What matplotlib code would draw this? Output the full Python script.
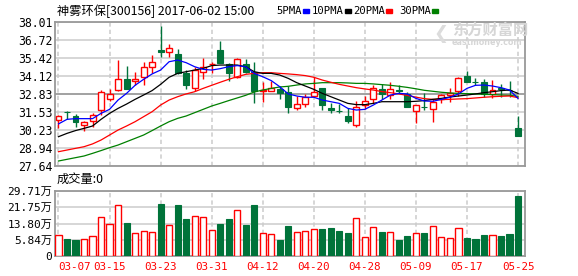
import numpy as np
import matplotlib.pyplot as plt
from matplotlib.patches import Rectangle

# daily candles 2017-03-07 .. 2017-05-25 (55 trading days)
opens = [30.93, 31.53, 31.27, 30.62, 30.86, 31.65, 32.49, 33.09, 33.88, 33.79,
         34.05, 34.79, 35.97, 35.83, 35.71, 34.36, 33.23, 34.39, 35.00, 35.99,
         34.96, 34.07, 34.99, 34.43, 33.05, 33.07, 33.19, 32.99, 31.79, 32.08,
         32.68, 33.23, 31.82, 31.62, 31.24, 30.62, 32.01, 32.49, 33.19, 32.78,
         33.10, 32.80, 31.60, 31.90, 31.72, 32.49, 32.78, 33.02, 34.10, 33.70,
         33.69, 32.83, 33.26, 33.14, 30.38]
highs = [31.30, 31.60, 31.36, 30.91, 31.48, 33.09, 33.16, 35.25, 34.84, 34.43,
         35.13, 35.63, 37.72, 36.40, 36.04, 34.55, 34.79, 35.42, 35.11, 36.64,
         35.03, 35.39, 35.32, 35.11, 33.71, 33.79, 33.40, 33.43, 32.68, 32.83,
         34.03, 33.28, 32.15, 32.08, 31.79, 32.32, 32.68, 33.47, 33.52, 33.71,
         33.47, 32.99, 32.01, 32.92, 32.44, 32.83, 33.23, 34.03, 34.51, 33.95,
         33.88, 33.83, 33.55, 33.76, 31.24]
lows = [30.35, 31.05, 30.47, 30.19, 30.47, 31.31, 32.32, 33.07, 33.21, 33.45,
        33.47, 34.31, 35.51, 35.51, 34.30, 33.19, 33.07, 33.91, 34.31, 35.03,
        33.76, 33.95, 34.31, 32.15, 32.23, 33.05, 32.47, 31.48, 31.70, 31.87,
        32.63, 31.67, 31.48, 31.48, 30.74, 30.47, 31.72, 32.15, 32.47, 32.47,
        32.90, 31.87, 30.71, 31.67, 30.83, 32.15, 32.27, 32.68, 33.71, 33.47,
        32.59, 32.56, 32.59, 32.63, 29.83]
closes = [31.27, 31.50, 30.79, 30.79, 31.34, 32.95, 32.83, 33.88, 33.21, 33.91,
          34.79, 35.11, 35.85, 36.11, 34.36, 33.50, 34.55, 34.75, 35.01, 35.08,
          34.36, 35.32, 34.43, 33.04, 33.08, 33.28, 32.92, 31.91, 32.08, 32.63,
          32.95, 32.01, 31.67, 31.60, 30.91, 31.87, 32.30, 33.23, 32.83, 33.16,
          33.05, 31.87, 32.01, 31.87, 32.27, 32.78, 32.90, 33.95, 33.71, 33.67,
          32.83, 33.11, 33.20, 33.10, 29.83]

# moving averages
ma5 = [30.67, 31.00, 31.05, 31.05, 31.05, 31.43, 31.72, 32.39, 32.87, 33.45,
       33.88, 34.27, 34.55, 35.15, 35.27, 35.08, 34.79, 34.60, 34.55, 34.65,
       34.79, 34.87, 34.79, 34.31, 34.07, 33.79, 33.35, 32.83, 32.68, 32.59,
       32.59, 32.39, 32.27, 32.15, 31.79, 31.67, 31.72, 32.03, 32.39, 32.75,
       32.87, 32.83, 32.51, 32.32, 32.30, 32.44, 32.59, 32.83, 33.23, 33.45,
       33.47, 33.40, 33.28, 33.11, 32.51]
ma10 = [29.75, 29.99, 30.19, 30.35, 30.52, 31.00, 31.43, 31.79, 32.10, 32.44,
        32.75, 33.07, 33.52, 34.03, 34.31, 34.43, 34.55, 34.67, 34.87, 34.91,
        34.91, 34.91, 34.79, 34.43, 34.31, 34.31, 34.19, 33.95, 33.64, 33.40,
        33.16, 32.87, 32.63, 32.39, 32.15, 32.06, 32.06, 32.15, 32.27, 32.27,
        32.27, 32.27, 32.30, 32.35, 32.44, 32.51, 32.61, 32.68, 32.75, 32.83,
        32.92, 32.99, 33.07, 33.11, 32.87]
ma20 = [28.67, 28.79, 28.91, 29.03, 29.23, 29.51, 29.87, 30.23, 30.52, 30.83,
        31.19, 31.55, 32.03, 32.39, 32.63, 32.83, 32.99, 33.23, 33.45, 33.67,
        33.88, 34.07, 34.24, 34.31, 34.36, 34.36, 34.31, 34.27, 34.22, 34.15,
        34.03, 33.83, 33.67, 33.52, 33.40, 33.28, 33.19, 33.11, 33.00, 32.92,
        32.83, 32.72, 32.60, 32.49, 32.44, 32.42, 32.44, 32.47, 32.49, 32.54,
        32.59, 32.63, 32.66, 32.68, 32.56]
ma30 = [28.00, 28.12, 28.24, 28.36, 28.55, 28.75, 28.96, 29.15, 29.39, 29.63,
        29.87, 30.19, 30.52, 30.83, 31.07, 31.24, 31.48, 31.72, 31.96, 32.15,
        32.35, 32.54, 32.73, 32.97, 33.11, 33.23, 33.33, 33.38, 33.47, 33.55,
        33.59, 33.64, 33.64, 33.64, 33.62, 33.59, 33.59, 33.55, 33.50, 33.45,
        33.38, 33.30, 33.20, 33.09, 33.02, 32.95, 32.90, 32.87, 32.85, 32.83,
        32.80, 32.78, 32.75, 32.73, 32.66]

# volume in 万
volumes = [9.45, 7.77, 7.31, 7.62, 8.99, 17.67, 14.48, 23.16, 15.08, 10.36,
           11.28, 10.82, 23.77, 14.02, 23.31, 16.91, 18.13, 17.67, 11.88, 14.63,
           16.91, 21.03, 14.17, 23.31, 10.36, 9.90, 7.31, 13.71, 10.82, 11.43,
           12.34, 12.34, 12.80, 11.58, 10.51, 17.22, 8.53, 13.10, 11.12, 10.97,
           7.31, 9.14, 10.36, 10.51, 13.71, 8.69, 8.23, 12.80, 8.38, 7.92,
           9.75, 9.60, 9.14, 10.06, 27.43]

date_labels = ["03-07", "03-15", "03-23", "03-31", "04-12",
               "04-20", "04-28", "05-09", "05-17", "05-25"]
price_labels = ["27.64", "28.94", "30.23", "31.53", "32.83",
                "34.12", "35.42", "36.72", "38.01"]
vol_labels = ["0", "5.84万", "13.80万", "21.75万", "29.71万"]

RED = "#ff0000"
GREEN = "#00733a"
FRAME = "#999999"
GRID = "#cccccc"
CJK = ["Noto Sans CJK SC", "DejaVu Sans"]
NUM = ["DejaVu Sans Mono", "Noto Sans CJK SC"]

W, H = 578, 276
fig = plt.figure(figsize=(W / 100, H / 100), dpi=100)
ax = fig.add_axes([55 / W, 1 - 166 / H, 470 / W, 144 / H])
axv = fig.add_axes([55 / W, 1 - 256 / H, 470 / W, 65 / H])

x = np.arange(len(closes))
o = np.array(opens)
c = np.array(closes)
up = c >= o
xticks = x[::6]

for a in (ax, axv):
    a.set_axisbelow(True)
    a.set_xlim(-0.41, 54.82)
    for s in a.spines.values():
        s.set_color(FRAME)
        s.set_linewidth(1.3)
    a.set_xticks(xticks)
    a.tick_params(length=0, pad=2)
    a.xaxis.grid(True, color=GRID, lw=1.1, ls=(0, (2.8, 2)))
    a.yaxis.grid(True, color=GRID, lw=1.1, ls="-")

# price panel
pmin, pmax = float(price_labels[0]), float(price_labels[-1])
ax.set_ylim(pmin, pmax)
pticks = np.linspace(pmin, pmax, len(price_labels))
ax.set_yticks(pticks)
ax.set_yticklabels(price_labels, family=NUM, fontsize=8.3)
ax.hlines(pticks[4], -0.41, 54.82, color=FRAME, lw=1.2, zorder=1.5)
ax.set_xticklabels([])

colors = np.where(up, RED, GREEN)
ax.vlines(x, lows, highs, colors=colors, lw=1.0, zorder=2)
body_lo = np.minimum(o, c)
body_h = np.maximum(np.abs(c - o), 0.015)
ax.bar(x[up], body_h[up], bottom=body_lo[up], width=0.7, facecolor="white",
       edgecolor=RED, lw=1.0, zorder=3)
ax.bar(x[~up], body_h[~up], bottom=body_lo[~up], width=0.7, facecolor=GREEN,
       edgecolor=GREEN, lw=0.8, zorder=3)

ax.plot(x, ma30, color="#008000", lw=0.9, zorder=4)
ax.plot(x, ma20, color=RED, lw=0.9, zorder=4)
ax.plot(x, ma10, color="black", lw=0.9, zorder=4)
ax.plot(x, ma5, color="#0000ff", lw=0.9, zorder=4)

# volume panel
vmax = float(vol_labels[-1].rstrip("万"))
axv.set_ylim(0, vmax)
vticks = np.linspace(0, vmax, len(vol_labels))
axv.set_yticks(vticks)
axv.set_yticklabels(vol_labels, family=NUM, fontsize=8)
v = np.array(volumes)
axv.bar(x[up], v[up], width=0.72, facecolor="white", edgecolor=RED, lw=1.0, zorder=3)
axv.bar(x[~up], v[~up], width=0.72, facecolor=GREEN, edgecolor=GREEN, lw=0.8, zorder=3)
axv.set_xticklabels(date_labels, color=RED, family=NUM, fontsize=7.8)
axv.get_xticklabels()[0].set_ha("left")
axv.tick_params(axis="x", pad=4)

# header and legend
fig.text(57 / W, 1 - 11 / H, "神雾环保[300156] 2017-06-02 15:00", fontsize=8.8,
         family=CJK, va="center", ha="left")
legend = [("5PMA", "#0000ff", 276), ("10PMA", "black", 312),
          ("20PMA", RED, 353), ("30PMA", "#008000", 399)]
for name, col, px in legend:
    fig.text(px / W, 1 - 11 / H, name, fontsize=7.6, family=NUM,
             va="center", ha="left")
    fig.patches.append(Rectangle(((px + 6.3 * len(name) + 1.5) / W, 1 - 12.5 / H),
                                 6 / W, 3 / H, color=col, transform=fig.transFigure))
fig.text(57 / W, 1 - 179 / H, "成交量:0", fontsize=8.8, family=CJK,
         va="center", ha="left")

# watermark
fig.text(490 / W, 1 - 30 / H, "东方财富网", fontsize=11, family=CJK, weight="bold",
         color="#d6d6d6", ha="center", va="center", zorder=1)
fig.text(487 / W, 1 - 42.5 / H, "eastmoney.com", fontsize=5.8, weight="bold",
         color="#d6d6d6", ha="center", va="center", zorder=1)
fig.text(441 / W, 1 - 34 / H, "❮", fontsize=13, color="#dcdcdc",
         ha="center", va="center", zorder=1)

fig.savefig("out.png", dpi=100, facecolor="white")
